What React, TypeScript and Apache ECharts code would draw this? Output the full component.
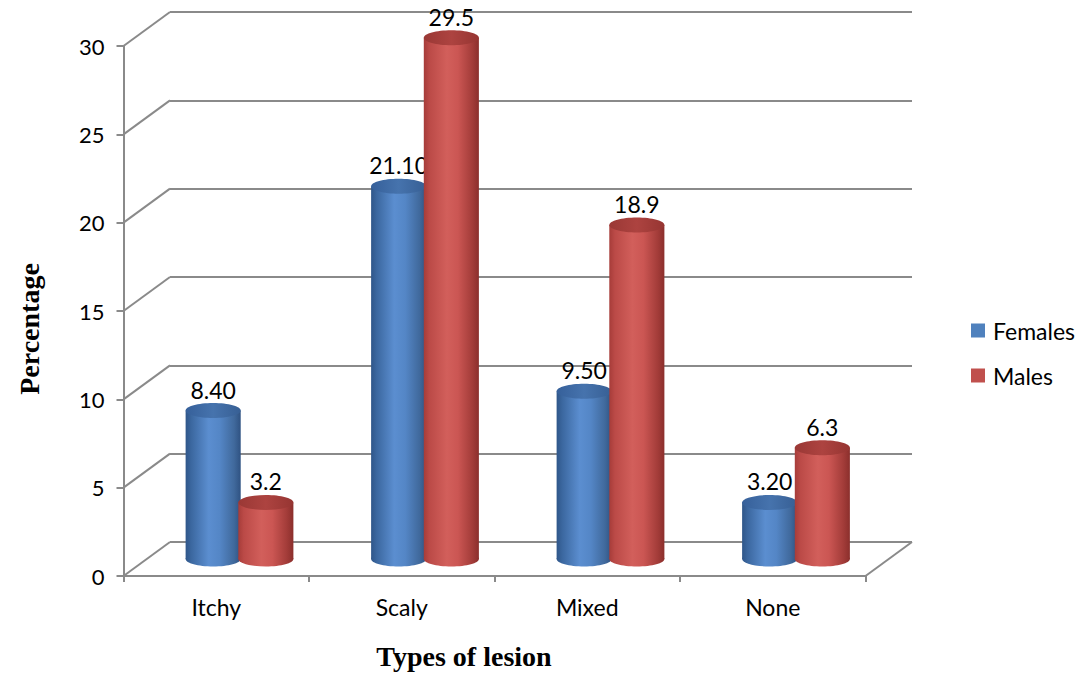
import React, { useEffect, useRef } from "react";
import * as echarts from "echarts";

// Percentage of lesion types by sex
const categories = ["Itchy", "Scaly", "Mixed", "None"];
const females = [8.4, 21.1, 9.5, 3.2];
const males = [3.2, 29.5, 18.9, 6.3];
const seriesNames = ["Females", "Males"];

const Y_MIN = 0;
const Y_MAX = 30;
const Y_STEP = 5;

// 3D box geometry: front plane, mid plane (cylinders) and back wall
const PLOT_W = 742;
const PLOT_H = 530;
const FRONT_LEFT = 123.5;
const FRONT_TOP = 46;
const DEPTH_X = 46.5;
const DEPTH_Y = 34;

const GRID_COLOR = "#8a8a8a";
const FONT = "Lato, 'Open Sans', sans-serif";
const SERIF = "'Liberation Serif', 'DejaVu Serif', serif";

const blueBody = [
  [0, "#2f5689"],
  [0.1, "#3b679f"],
  [0.42, "#5b8ed0"],
  [0.62, "#5486c6"],
  [0.88, "#40699c"],
  [1, "#2f5282"],
];
const blueTop = [
  [0, "#36609a"],
  [0.5, "#4673ad"],
  [1, "#375f94"],
];
const redBody = [
  [0, "#a63c39"],
  [0.1, "#bb4a47"],
  [0.42, "#d25f5b"],
  [0.62, "#cb5653"],
  [0.88, "#a33c39"],
  [1, "#8b2f2c"],
];
const redTop = [
  [0, "#9a3835"],
  [0.5, "#ad4340"],
  [1, "#963532"],
];

function grad(stops: (string | number)[][]) {
  return new echarts.graphic.LinearGradient(
    0,
    0,
    1,
    0,
    stops.map(([offset, color]) => ({ offset: offset as number, color: color as string }))
  );
}

function cylinderSeries(
  name: string,
  values: number[],
  side: number,
  legendColor: string,
  body: (string | number)[][],
  top: (string | number)[][],
  digits: number,
  z: number
) {
  return {
    type: "custom",
    name,
    xAxisIndex: 1,
    yAxisIndex: 1,
    z,
    itemStyle: { color: legendColor },
    data: values.map((v, i) => [i, v]),
    renderItem: (params: any, api: any) => {
      const ci = api.value(0);
      const v = api.value(1);
      const topPt = api.coord([ci, v]);
      const basePt = api.coord([ci, 0]);
      const band = api.size([1, 0])[0];
      const w = band * 0.297;
      const rx = w / 2;
      const ry = 7.5;
      const cx = topPt[0] + side * band * 0.142;
      const bodyFill = grad(body);
      return {
        type: "group",
        children: [
          {
            type: "ellipse",
            shape: { cx, cy: basePt[1], rx, ry },
            style: { fill: bodyFill },
          },
          {
            type: "rect",
            shape: { x: cx - rx, y: topPt[1], width: w, height: basePt[1] - topPt[1] },
            style: { fill: bodyFill },
          },
          {
            type: "ellipse",
            shape: { cx, cy: topPt[1], rx, ry },
            style: { fill: grad(top) },
          },
          {
            type: "text",
            style: {
              text: v.toFixed(digits),
              x: cx,
              y: topPt[1] - 21,
              align: "center",
              verticalAlign: "middle",
              fontSize: 23,
              fontFamily: FONT,
              fill: "#000",
            },
          },
        ],
      };
    },
  };
}

export default function App() {
  const ref = useRef<HTMLDivElement>(null);

  useEffect(() => {
    if (!ref.current) return;
    const chart = echarts.init(ref.current, undefined, { renderer: "svg" });

    const ticks: number[] = [];
    for (let v = Y_MIN; v <= Y_MAX; v += Y_STEP) ticks.push(v);

    const grids = [
      { left: FRONT_LEFT, top: FRONT_TOP, width: PLOT_W, height: PLOT_H },
      { left: FRONT_LEFT + DEPTH_X / 2, top: FRONT_TOP - DEPTH_Y / 2, width: PLOT_W, height: PLOT_H },
      { left: FRONT_LEFT + DEPTH_X, top: FRONT_TOP - DEPTH_Y, width: PLOT_W, height: PLOT_H },
    ];

    const hiddenCat = (gridIndex: number) => ({
      type: "category",
      gridIndex,
      data: categories,
      show: false,
    });

    const option: any = {
      animation: false,
      backgroundColor: "#fff",
      grid: grids,
      xAxis: [
        {
          type: "category",
          gridIndex: 0,
          data: categories,
          axisLine: { lineStyle: { color: GRID_COLOR, width: 2 } },
          axisTick: { show: true, length: 6, lineStyle: { color: GRID_COLOR, width: 2 } },
          axisLabel: { color: "#000", fontSize: 23, fontFamily: FONT, margin: 19 },
          splitLine: { show: false },
        },
        hiddenCat(1),
        hiddenCat(2),
      ],
      yAxis: [
        {
          type: "value",
          gridIndex: 0,
          min: Y_MIN,
          max: Y_MAX,
          interval: Y_STEP,
          axisLine: { show: true, lineStyle: { color: GRID_COLOR, width: 2 } },
          axisTick: { show: true, length: 7, lineStyle: { color: GRID_COLOR, width: 2 } },
          axisLabel: { color: "#000", fontSize: 22, fontFamily: FONT, margin: 19 },
          splitLine: { show: false },
        },
        {
          type: "value",
          gridIndex: 1,
          min: Y_MIN,
          max: Y_MAX,
          interval: Y_STEP,
          show: false,
        },
        {
          type: "value",
          gridIndex: 2,
          min: Y_MIN,
          max: Y_MAX,
          interval: Y_STEP,
          axisLine: { show: false },
          axisTick: { show: false },
          axisLabel: { show: false },
          splitLine: { show: true, lineStyle: { color: GRID_COLOR, width: 2 } },
        },
      ],
      legend: {
        data: seriesNames,
        orient: "vertical",
        left: 966,
        top: 314,
        icon: "rect",
        itemWidth: 14,
        itemHeight: 14,
        itemGap: 22,
        textStyle: { color: "#000", fontSize: 23, fontFamily: FONT, padding: [0, 0, 0, 3] },
      },
      graphic: [
        {
          type: "text",
          x: 29,
          y: 329,
          rotation: Math.PI / 2,
          style: {
            text: "Percentage",
            align: "center",
            verticalAlign: "middle",
            fontSize: 28,
            fontWeight: "bold",
            fontFamily: SERIF,
            fill: "#000",
          },
        },
        {
          type: "text",
          x: 464,
          y: 656,
          style: {
            text: "Types of lesion",
            align: "center",
            verticalAlign: "middle",
            fontSize: 28,
            fontWeight: "bold",
            fontFamily: SERIF,
            fill: "#000",
          },
        },
      ],
      series: [
        {
          // side-wall and floor diagonals joining the front axis to the back wall
          type: "custom",
          xAxisIndex: 2,
          yAxisIndex: 2,
          z: 1,
          silent: true,
          data: ticks.map((v) => [0, v]),
          renderItem: (params: any, api: any) => {
            const v = api.value(1);
            const y = api.coord([0, v])[1];
            const cs = params.coordSys;
            const lineStyle = { stroke: GRID_COLOR, lineWidth: 2 };
            const children: any[] = [
              {
                type: "line",
                shape: { x1: cs.x - DEPTH_X, y1: y + DEPTH_Y, x2: cs.x, y2: y },
                style: lineStyle,
              },
            ];
            if (v === Y_MIN) {
              children.push({
                type: "line",
                shape: {
                  x1: cs.x + cs.width - DEPTH_X,
                  y1: y + DEPTH_Y,
                  x2: cs.x + cs.width,
                  y2: y,
                },
                style: lineStyle,
              });
            }
            return { type: "group", children };
          },
        },
        cylinderSeries(seriesNames[0], females, -1, "#4F81BD", blueBody, blueTop, 2, 5),
        cylinderSeries(seriesNames[1], males, 1, "#C0504D", redBody, redTop, 1, 6),
      ],
    };

    chart.setOption(option);
    return () => chart.dispose();
  }, []);

  return (
    <div
      ref={ref}
      style={{ position: "absolute", left: 0, top: 0, width: 1090, height: 677 }}
    />
  );
}
